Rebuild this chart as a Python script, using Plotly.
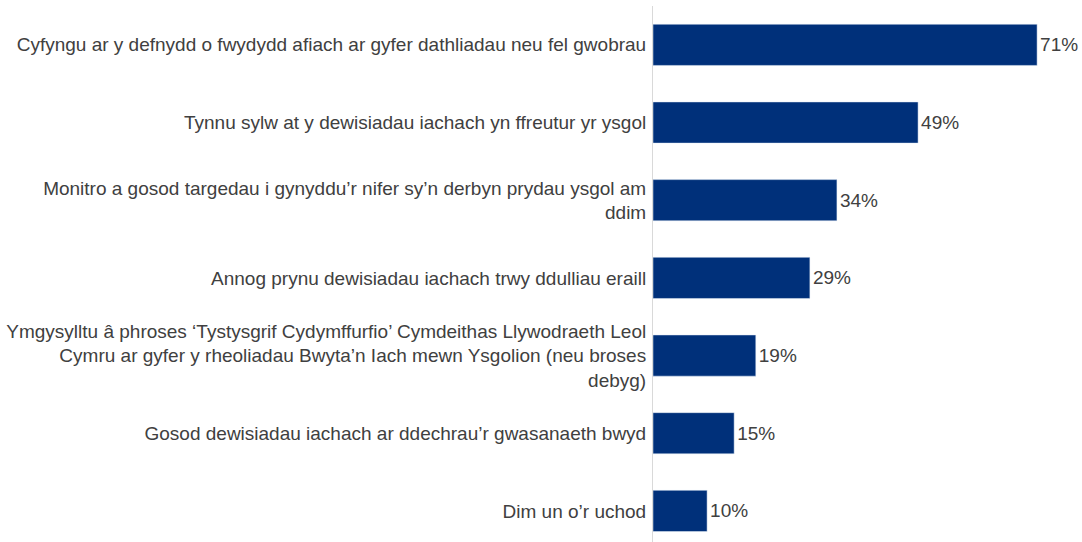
import plotly.graph_objects as go

# Categories (top to bottom) and percentages
labels = [
    "Cyfyngu ar y defnydd o fwydydd afiach ar gyfer dathliadau neu fel gwobrau",
    "Tynnu sylw at y dewisiadau iachach yn ffreutur yr ysgol",
    "Monitro a gosod targedau i gynyddu’r nifer sy’n derbyn prydau ysgol am<br>ddim",
    "Annog prynu dewisiadau iachach trwy ddulliau eraill",
    "Ymgysylltu â phroses ‘Tystysgrif Cydymffurfio’ Cymdeithas Llywodraeth Leol<br>"
    "Cymru ar gyfer y rheoliadau Bwyta’n Iach mewn Ysgolion (neu broses<br>debyg)",
    "Gosod dewisiadau iachach ar ddechrau’r gwasanaeth bwyd",
    "Dim un o’r uchod",
]
values = [71, 49, 34, 29, 19, 15, 10]

fig = go.Figure()
fig.add_trace(go.Bar(
    x=values,
    y=labels,
    orientation="h",
    marker_color="#00307A",
    text=[f"{v}%" for v in values],
    textposition="outside",
    textfont=dict(size=19, color="#404040"),
    cliponaxis=False,
))

fig.update_layout(
    width=1082, height=542,
    margin=dict(l=653, r=0, t=6, b=0),
    paper_bgcolor="white",
    plot_bgcolor="white",
    font=dict(family="Liberation Sans, Arial", size=19, color="#404040"),
    bargap=0.47,
    showlegend=False,
    xaxis=dict(range=[0, 79.3], visible=False),
    yaxis=dict(
        autorange=False, range=[6.4, -0.5],
        showline=True, linecolor="#D9D9D9", linewidth=1,
        showgrid=False, ticks="", ticklabelstandoff=2,
    ),
)

# page body has a default 8px margin; drop it so the chart sits at 0,0
fig.write_html("out.html", config={"displayModeBar": False},
               post_script="document.body.style.margin='0';")
